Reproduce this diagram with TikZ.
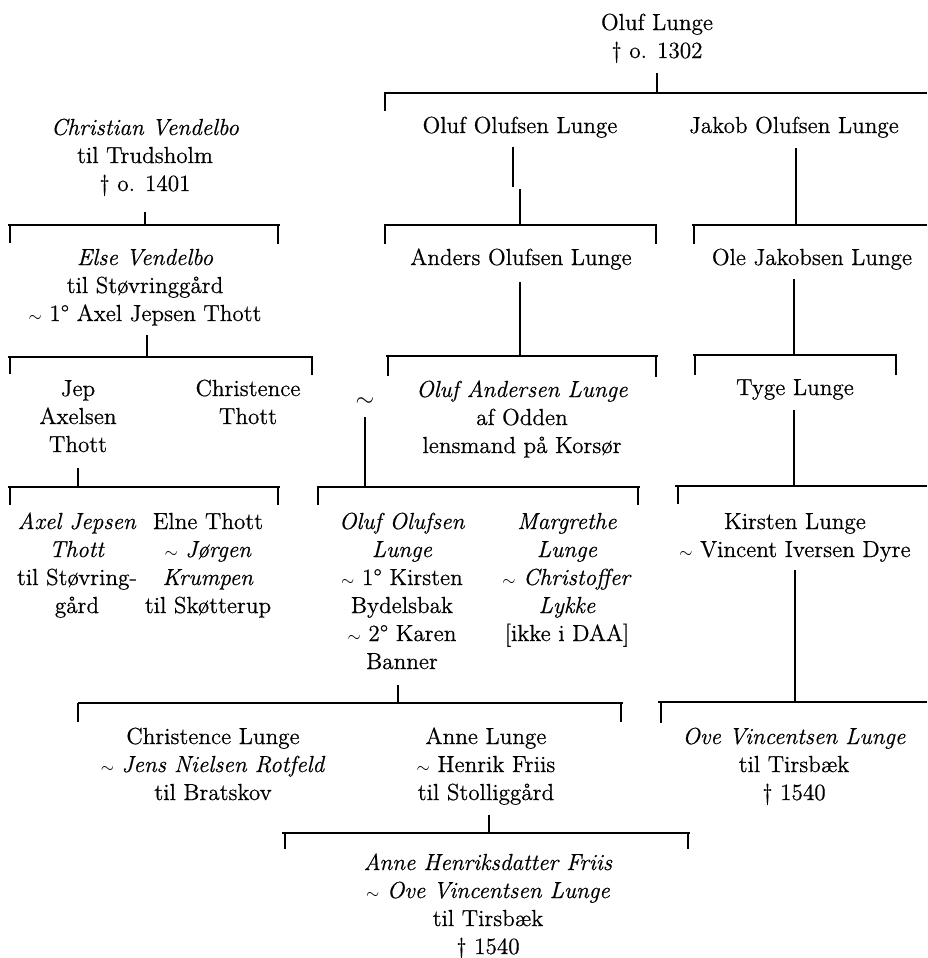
\documentclass[tikz,border=0pt]{standalone}
\usepackage{fontspec}
\setmainfont{Latin Modern Roman}[FakeBold=0.6]
\newcommand\mytl{{\fontsize{8.5}{10}\selectfont$\sim$}}
\newcommand\bigtl{{\fontsize{13}{13}\selectfont$\sim$}}
\begin{document}
\begin{tikzpicture}[x=0.5pt,y=-0.5pt,
  person/.style={align=center,anchor=north,inner sep=0pt,font=\fontsize{11.6}{14}\selectfont},
  bar/.style={line width=1pt},
  tick/.style={line width=0.8pt},
  drop/.style={line width=0.8pt}]
\useasboundingbox (0,0) rectangle (927,958);

% ---------- persons ----------
\node[person] (olufL) at (657,10) {\strut Oluf Lunge\\\textdagger{} o. 1302};
\node[person] (olufO) at (520,113) {\strut Oluf Olufsen Lunge};
\node[person] (jakob) at (794,113) {\strut Jakob Olufsen Lunge};
\node[person] (chrV) at (145,115) {\strut\textit{Christian Vendelbo}\\til Trudsholm\\\textdagger{} o. 1401};
\node[person] (elseV) at (145,245) {\strut\textit{Else Vendelbo}\\til Støvringgård\\\mytl{} 1° Axel Jepsen Thott};
\node[person] (anders) at (521,245) {\strut Anders Olufsen Lunge};
\node[person] (ole) at (812,245) {\strut Ole Jakobsen Lunge};
\node[person] (jep) at (78,376) {\strut Jep\\Axelsen\\Thott};
\node[person] (chrT) at (248,376) {\strut Christence\\Thott};
\node[person] (olufA) at (522,377) {\strut\textit{Oluf Andersen Lunge}\\af Odden\\lensmand på Korsør};
\node[person] (tyge) at (795,375) {\strut Tyge Lunge};
\node[inner sep=0pt] (marr) at (365,402) {\bigtl};
\node[person] (axelJ) at (77,509) {\strut\textit{Axel Jepsen}\\\textit{Thott}\\til Støvring-\\gård};
\node[person] (elne) at (208,509) {\strut Elne Thott\\\mytl{} \textit{Jørgen}\\\textit{Krumpen}\\til Skøtterup};
\node[person] (olufO2) at (402,509) {\strut\textit{Oluf Olufsen}\\\textit{Lunge}\\\mytl{} 1° Kirsten\\Bydelsbak\\\mytl{} 2° Karen\\Banner};
\node[person] (marg) at (567,509) {\strut\textit{Margrethe}\\\textit{Lunge}\\\mytl{} \textit{Christoffer}\\\textit{Lykke}\\{[ikke i DAA]}};
\node[person] (kirsten) at (795,509) {\strut Kirsten Lunge\\\mytl{} Vincent Iversen Dyre};
\node[person] (chrL) at (213,724) {\strut Christence Lunge\\\mytl{} \textit{Jens Nielsen Rotfeld}\\til Bratskov};
\node[person] (anneL) at (486,724) {\strut Anne Lunge\\\mytl{} Henrik Friis\\til Stolliggård};
\node[person] (oveV) at (794,724) {\strut\textit{Ove Vincentsen Lunge}\\til Tirsbæk\\\textdagger{} 1540};
\node[person] (anneH) at (488,850) {\strut\textit{Anne Henriksdatter Friis}\\\mytl{} \textit{Ove Vincentsen Lunge}\\til Tirsbæk\\\textdagger{} 1540};

% ---------- bars (family lines) ----------
\coordinate (b0L) at (384,93);  \coordinate (b0R) at (927,93);
\coordinate (b1L) at (8,225);   \coordinate (b1R) at (280,225);
\coordinate (b2L) at (384,225); \coordinate (b2R) at (657,225);
\coordinate (b3L) at (692,225); \coordinate (b3R) at (927,225);
\coordinate (b4L) at (8,357);   \coordinate (b4R) at (313,357);
\coordinate (b5L) at (386,356); \coordinate (b5R) at (658,356);
\coordinate (b6L) at (693,355); \coordinate (b6R) at (897,355);
\coordinate (b7L) at (8,487);   \coordinate (b7R) at (280,487);
\coordinate (b8L) at (317,487); \coordinate (b8R) at (640,487);
\coordinate (b9L) at (675,486); \coordinate (b9R) at (927,486);
\coordinate (b10L) at (78,703); \coordinate (b10R) at (623,703);
\coordinate (b11L) at (658,702);\coordinate (b11R) at (927,702);
\coordinate (b12L) at (282,833);\coordinate (b12R) at (690,833);
\foreach \b in {0,...,12} {\draw[bar] (b\b L) -- (b\b R);}

% ---------- ticks down to children ----------
\coordinate (k0a) at (385,93);   \draw[tick] (k0a) -- ++(0,18);
\coordinate (k1a) at (10,225);   \draw[tick] (k1a) -- ++(0,18);
\coordinate (k1b) at (278,225);  \draw[tick] (k1b) -- ++(0,19);
\coordinate (k2a) at (385,225);  \draw[tick] (k2a) -- ++(0,19);
\coordinate (k2b) at (656,225);  \draw[tick] (k2b) -- ++(0,19);
\coordinate (k3a) at (694,225);  \draw[tick] (k3a) -- ++(0,19);
\coordinate (k4a) at (10,357);   \draw[tick] (k4a) -- ++(0,17);
\coordinate (k4b) at (312,357);  \draw[tick] (k4b) -- ++(0,18);
\coordinate (k5a) at (388,356);  \draw[tick] (k5a) -- ++(0,20);
\coordinate (k5b) at (656,356);  \draw[tick] (k5b) -- ++(0,21);
\coordinate (k6a) at (695,355);  \draw[tick] (k6a) -- ++(0,20);
\coordinate (k6b) at (896,355);  \draw[tick] (k6b) -- ++(0,20);
\coordinate (k7a) at (10,487);   \draw[tick] (k7a) -- ++(0,18);
\coordinate (k7b) at (278,487);  \draw[tick] (k7b) -- ++(0,18);
\coordinate (k8a) at (318,487);  \draw[tick] (k8a) -- ++(0,18);
\coordinate (k8b) at (638,487);  \draw[tick] (k8b) -- ++(0,18);
\coordinate (k9a) at (678,486);  \draw[tick] (k9a) -- ++(0,18);
\coordinate (k10a) at (78,703);  \draw[tick] (k10a) -- ++(0,19);
\coordinate (k10b) at (621,703); \draw[tick] (k10b) -- ++(0,19);
\coordinate (k11a) at (661,702); \draw[tick] (k11a) -- ++(0,21);
\coordinate (k12a) at (285,833); \draw[tick] (k12a) -- ++(0,16);
\coordinate (k12b) at (688,833); \draw[tick] (k12b) -- ++(0,16);

% ---------- drops from parents to bars ----------
\coordinate (d0) at (657,73);   \draw[drop] (d0) -- (d0 |- b0L);
\coordinate (d1) at (145,212);  \draw[drop] (d1) -- (d1 |- b1L);
\coordinate (d2a) at (513,147); \coordinate (d2b) at (513,187);
\draw[drop] (d2a) -- (d2b);
\coordinate (d2c) at (520,189); \draw[drop] (d2c) -- (d2c |- b2L);
\coordinate (d3) at (796,148);  \draw[drop] (d3) -- (d3 |- b3L);
\coordinate (d4) at (147,335);  \draw[drop] (d4) -- (d4 |- b4L);
\coordinate (d5) at (520,282);  \draw[drop] (d5) -- (d5 |- b5L);
\coordinate (d6) at (794,279);  \draw[drop] (d6) -- (d6 |- b6L);
\coordinate (d7) at (78,468);   \draw[drop] (d7) -- (d7 |- b7L);
\coordinate (d8) at (365,417);  \draw[drop] (d8) -- (d8 |- b8L);
\coordinate (d9) at (794,410);  \draw[drop] (d9) -- (d9 |- b9L);
\coordinate (d10) at (398,685); \draw[drop] (d10) -- (d10 |- b10L);
\coordinate (d11) at (795,570); \draw[drop] (d11) -- (d11 |- b11L);
\coordinate (d12) at (489,815); \draw[drop] (d12) -- (d12 |- b12L);
\end{tikzpicture}
\end{document}
